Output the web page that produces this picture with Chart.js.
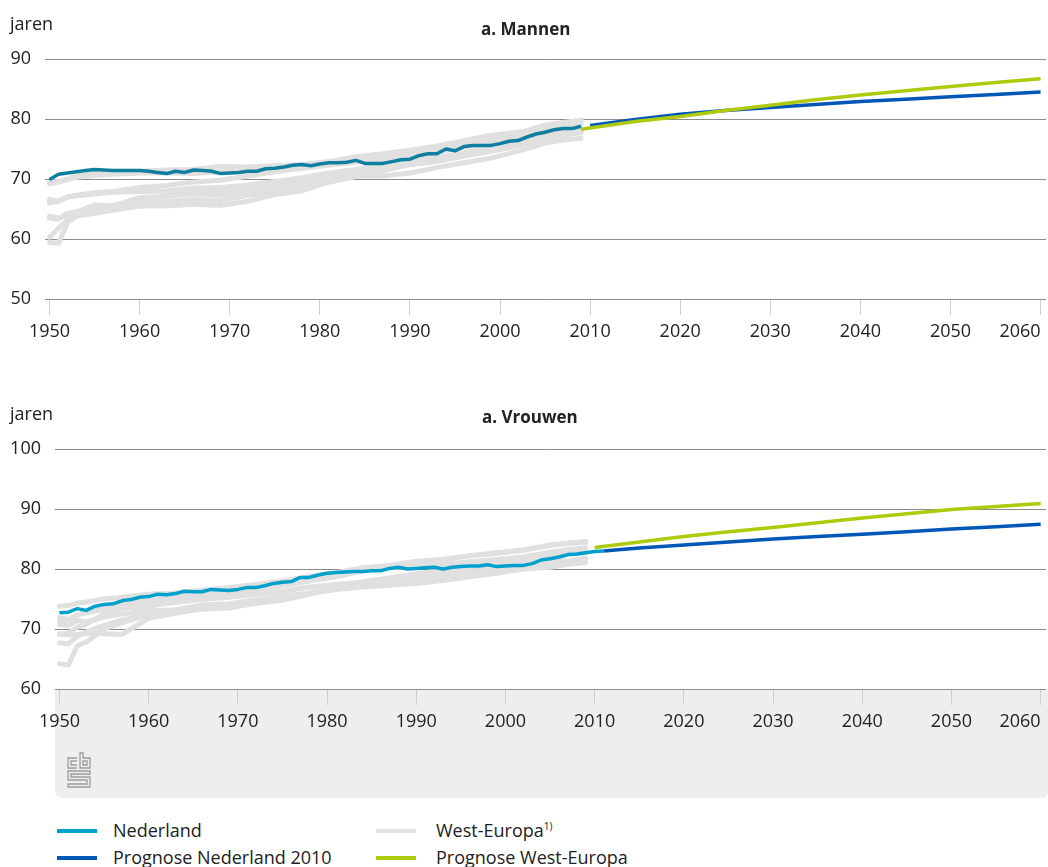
<!DOCTYPE html>
<html><head><meta charset="utf-8">
<script src="https://cdn.jsdelivr.net/npm/chart.js@4.4.1/dist/chart.umd.min.js"></script>
<style>
html,body{margin:0;padding:0;background:#fff;width:1048px;height:867px;overflow:hidden;font-family:'Open Sans',sans-serif;color:#222;}
.abs{position:absolute;}
#panel{left:55px;top:689px;width:993px;height:109px;background:#eeeeee;border-radius:0 0 6px 6px;}
.lbl{font-size:18px;line-height:18px;white-space:nowrap;}
.ttl{font-size:17px;line-height:17px;font-weight:700;white-space:nowrap;}
.sw{height:4px;width:40px;}
sup{font-size:10px;vertical-align:7px;line-height:0;}
</style></head><body>
<div id="panel" class="abs"></div>
<svg class="abs" style="left:67px;top:752px" width="24" height="36" viewBox="0 0 24 36" fill="none" stroke="#9c9c9c" stroke-width="1.3">
  <path d="M10 6 H1 V16 H10 M10 9 H4 V13 H10"/>
  <path d="M13 1 V16 H23 V6 H16 V1 Z M16 9 H20 V13 H16 Z"/>
  <path d="M23 19 H1 V28 H20 V32 H1 V35 H23 V25 H4 V22 H23 Z"/>
</svg>
<canvas id="c1" class="abs" width="1048" height="350" style="left:0;top:0"></canvas>
<canvas id="c2" class="abs" width="1048" height="390" style="left:0;top:350px"></canvas>
<div class="abs lbl" style="left:10px;top:14px">jaren</div>
<div class="abs ttl" style="left:481px;top:20px">a. Mannen</div>
<div class="abs lbl" style="left:10px;top:404px">jaren</div>
<div class="abs ttl" style="left:482px;top:408px">a. Vrouwen</div>

<div class="abs sw" style="left:57px;top:829px;background:#00a0cd"></div>
<div class="abs lbl" style="left:113px;top:821px">Nederland</div>
<div class="abs sw" style="left:57px;top:856px;background:#0057b7"></div>
<div class="abs lbl" style="left:113px;top:848px">Prognose Nederland 2010</div>
<div class="abs sw" style="left:376px;top:829px;background:#e0e0e0"></div>
<div class="abs lbl" style="left:436px;top:821px">West-Europa<sup>1)</sup></div>
<div class="abs sw" style="left:376px;top:856px;background:#afca0b"></div>
<div class="abs lbl" style="left:436px;top:848px">Prognose West-Europa</div>

<script>
// ---- tick labels ----
const xTicks = [1950,1960,1970,1980,1990,2000,2010,2020,2030,2040,2050,2060];
const yTicksMen = [50,60,70,80,90];
const yTicksWomen = [60,70,80,90,100];

// ---- Nederland, observed ----
const nlYearsMen = [1950,1951,1952,1953,1954,1955,1956,1957,1958,1959,1960,1961,1962,1963,1964,1965,1966,1967,1968,1969,1970,1971,1972,1973,1974,1975,1976,1977,1978,1979,1980,1981,1982,1983,1984,1985,1986,1987,1988,1989,1990,1991,1992,1993,1994,1995,1996,1997,1998,1999,2000,2001,2002,2003,2004,2005,2006,2007,2008,2009];
const nlMen = [69.9,70.8,71.0,71.2,71.4,71.6,71.5,71.4,71.4,71.4,71.4,71.3,71.1,70.9,71.3,71.1,71.5,71.4,71.3,70.9,71.0,71.1,71.3,71.3,71.7,71.8,72.0,72.3,72.4,72.2,72.5,72.7,72.7,72.8,73.1,72.6,72.6,72.6,72.9,73.2,73.3,73.9,74.2,74.2,75.0,74.7,75.4,75.6,75.6,75.6,75.9,76.3,76.4,77.0,77.5,77.8,78.2,78.4,78.4,78.8];

const nlYearsWomen = [1950,1951,1952,1953,1954,1955,1956,1957,1958,1959,1960,1961,1962,1963,1964,1965,1966,1967,1968,1969,1970,1971,1972,1973,1974,1975,1976,1977,1978,1979,1980,1981,1982,1983,1984,1985,1986,1987,1988,1989,1990,1991,1992,1993,1994,1995,1996,1997,1998,1999,2000,2001,2002,2003,2004,2005,2006,2007,2008,2009,2010,2011];
const nlWomen = [72.7,72.8,73.4,73.1,73.8,74.1,74.2,74.7,74.9,75.3,75.4,75.8,75.7,75.9,76.3,76.2,76.2,76.6,76.5,76.4,76.6,76.9,76.9,77.2,77.6,77.8,77.9,78.6,78.6,79.0,79.3,79.4,79.5,79.6,79.6,79.7,79.7,80.1,80.3,80.0,80.1,80.2,80.3,80.0,80.3,80.4,80.5,80.5,80.7,80.4,80.5,80.6,80.6,80.9,81.5,81.7,82.0,82.4,82.5,82.7,82.9,83.0];

// ---- West-Europa, observed (countries) ----
const weYears = [1950,1951,1952,1953,1955,1957,1960,1963,1966,1969,1972,1975,1978,1981,1984,1987,1990,1993,1996,1999,2002,2005,2007,2009];
const weMen1 = [69.4,69.6,70.0,70.5,71.0,71.0,71.3,71.5,71.6,72.1,72.0,72.2,72.4,72.9,73.7,74.2,74.8,75.5,76.4,77.3,77.8,78.5,79.0,79.5];
const weMen2 = [69.2,69.5,69.9,70.3,70.6,70.8,71.0,71.0,70.9,71.2,71.3,71.5,71.8,72.3,72.8,73.2,73.7,74.5,75.3,76.0,76.9,77.8,78.4,79.0];
const weMen3 = [66.6,66.3,67.0,67.3,67.7,67.9,68.6,68.9,69.5,69.8,70.5,71.2,71.8,72.5,73.4,73.9,74.2,75.0,75.9,76.8,77.6,79.0,79.4,79.8];
const weMen4 = [66.0,66.3,67.0,67.2,67.5,67.8,67.9,68.0,68.5,68.6,69.0,69.6,70.2,71.0,71.6,72.4,73.0,73.6,74.4,75.3,76.2,77.1,77.6,78.2];
const weMen5 = [63.8,63.5,64.0,64.3,65.2,65.5,66.9,67.1,67.9,68.0,68.6,69.0,69.6,70.5,71.3,71.8,72.7,73.3,74.1,75.0,75.8,76.8,77.5,78.0];
const weMen6 = [63.5,63.3,64.3,64.5,65.7,65.5,66.5,67.2,67.5,67.3,67.9,68.3,69.2,70.2,71.0,71.8,72.4,73.0,73.8,74.6,75.5,76.6,77.3,77.8];
const weMen7 = [60.3,61.8,63.3,64.0,64.8,65.3,65.8,66.3,66.6,66.4,67.3,67.8,68.8,69.5,70.4,71.4,72.4,72.9,73.9,75.0,75.8,76.8,77.4,77.7];
const weMen8 = [59.4,59.3,62.8,63.8,64.3,64.8,65.5,65.5,65.8,65.6,66.3,67.4,68.0,69.5,70.5,70.5,71.0,71.9,72.7,73.5,74.6,76.0,76.5,76.8];

const weWomen1 = [73.8,73.9,74.3,74.5,75.0,75.3,75.8,76.0,76.5,76.9,77.4,78.0,78.7,79.2,79.8,80.2,80.5,80.8,81.2,81.6,82.0,82.8,83.2,83.5];
const weWomen2 = [69.1,69.3,70.3,70.8,72.5,73.4,73.8,74.5,75.5,76.0,76.5,77.2,78.0,78.7,79.7,80.5,81.1,81.6,82.2,82.7,83.1,83.9,84.3,84.6];
const weWomen3 = [71.3,71.5,72.3,72.8,73.8,74.5,74.7,75.3,76.1,76.6,77.2,77.9,78.7,79.4,80.2,80.6,81.3,81.6,82.2,82.6,83.2,84.0,84.3,84.4];
const weWomen4 = [71.9,71.6,72.4,72.7,73.3,73.8,74.2,74.4,74.9,75.3,75.8,76.3,77.0,77.4,77.8,78.1,78.6,78.9,79.4,79.9,80.3,80.8,81.3,81.8];
const weWomen5 = [67.7,67.5,68.8,69.5,70.6,71.5,72.4,73.0,73.3,73.6,74.3,74.9,75.9,76.8,77.5,78.4,78.8,79.3,80.2,80.8,81.1,81.9,82.5,82.7];
const weWomen6 = [69.2,69.0,69.1,69.3,69.2,69.1,71.8,72.6,73.4,73.9,74.5,75.3,76.0,76.9,77.9,78.5,79.2,79.8,80.6,81.3,81.8,82.6,83.0,83.2];
const weWomen7 = [64.2,64.0,67.2,67.8,70.0,71.0,72.4,72.8,73.4,73.5,74.3,74.8,75.8,76.8,77.7,77.8,78.2,78.6,79.2,79.6,80.0,80.3,80.8,81.1];
const weWomen8 = [70.8,70.6,71.4,71.2,72.0,72.5,73.0,73.2,74.0,74.2,74.9,75.5,76.0,76.6,77.0,77.3,77.6,78.1,78.7,79.3,80.0,81.2,82.4,82.8];

// ---- Prognoses ----
const progNlMenYears = [2010,2015,2020,2025,2030,2035,2040,2045,2050,2055,2060];
const progNlMen = [78.9,79.9,80.8,81.4,81.9,82.4,82.9,83.3,83.7,84.1,84.5];
const progWeMenYears = [2009,2015,2020,2025,2030,2035,2040,2045,2050,2055,2060];
const progWeMen = [78.3,79.6,80.4,81.4,82.3,83.2,84.0,84.7,85.4,86.1,86.7];
const progNlWomenYears = [2011,2015,2020,2025,2030,2035,2040,2045,2050,2055,2060];
const progNlWomen = [83.0,83.5,84.0,84.5,85.0,85.4,85.8,86.2,86.65,87.05,87.45];
const progWeWomenYears = [2010,2015,2020,2025,2030,2035,2040,2045,2050,2055,2060];
const progWeWomen = [83.6,84.5,85.4,86.2,86.9,87.7,88.5,89.2,89.9,90.4,90.9];

// ---- styles ----
const C_GREY = '#e0e0e0', C_NL_M = '#0e7fa0', C_NL_W = '#00a0cd', C_PNL = '#0057b7', C_PWE = '#afca0b';

Chart.defaults.font.family = "'Open Sans', sans-serif";
Chart.defaults.font.size = 18;
Chart.defaults.color = '#222';

function pts(xs, ys){ return xs.map((x,i)=>({x:x, y:ys[i]})); }
function greySet(vals){ return {data: pts(weYears, vals), borderColor:C_GREY, borderWidth:5, order:3, borderCapStyle:'round', borderJoinStyle:'round'}; }

function build(id, greys, nlYears, nl, nlColor, pNlY, pNl, pWeY, pWe, yTicks, yAxisW, padTop){
  const datasets = greys.map(greySet);
  datasets.push({data: pts(nlYears, nl), borderColor:nlColor, borderWidth:3.5, order:2, borderJoinStyle:'round'});
  datasets.push({data: pts(pNlY, pNl), borderColor:C_PNL, borderWidth:3.5, order:1});
  datasets.push({data: pts(pWeY, pWe), borderColor:C_PWE, borderWidth:3.5, order:0});
  return new Chart(document.getElementById(id), {
    type:'line',
    data:{datasets},
    options:{
      responsive:false, animation:false, parsing:true,
      layout:{padding:{top:padTop, bottom:5, left:10, right:2}},
      plugins:{legend:{display:false}, tooltip:{enabled:false}, title:{display:false}},
      elements:{point:{radius:0}, line:{tension:0, fill:false}},
      scales:{
        x:{
          type:'linear', min:1949.5, max:2060.6,
          afterBuildTicks: s => { s.ticks = [{value:1949.5}].concat(xTicks.map(v=>({value:v}))); },
          afterFit: s => { s.height = 46; s.paddingLeft = 0; s.paddingRight = 0; },
          ticks:{autoSkip:false, maxRotation:0, minRotation:0, align:'inner', padding:6, color:'#222',
                 callback: v => xTicks.includes(v) ? String(v) : ''},
          grid:{drawOnChartArea:false, drawTicks:true, tickLength:16, lineWidth:1,
                color: ctx => (ctx.tick && xTicks.includes(ctx.tick.value)) ? '#cfcfcf' : 'rgba(0,0,0,0)'},
          border:{display:false}
        },
        y:{
          min: yTicks[0], max: yTicks[yTicks.length-1],
          afterBuildTicks: s => { s.ticks = yTicks.map(v=>({value:v})); },
          afterFit: s => { s.width = yAxisW; s.paddingTop = 0; s.paddingBottom = 0; },
          ticks:{padding:14, color:'#222'},
          grid:{color:'#8c8c8c', lineWidth:1, drawTicks:false},
          border:{display:false}
        }
      }
    }
  });
}

build('c1', [weMen1,weMen2,weMen3,weMen4,weMen5,weMen6,weMen7,weMen8], nlYearsMen, nlMen, C_NL_M,
      progNlMenYears, progNlMen, progWeMenYears, progWeMen, yTicksMen, 35, 59);
build('c2', [weWomen1,weWomen2,weWomen3,weWomen4,weWomen5,weWomen6,weWomen7,weWomen8], nlYearsWomen, nlWomen, C_NL_W,
      progNlWomenYears, progNlWomen, progWeWomenYears, progWeWomen, yTicksWomen, 45, 99);
</script>
</body></html>
